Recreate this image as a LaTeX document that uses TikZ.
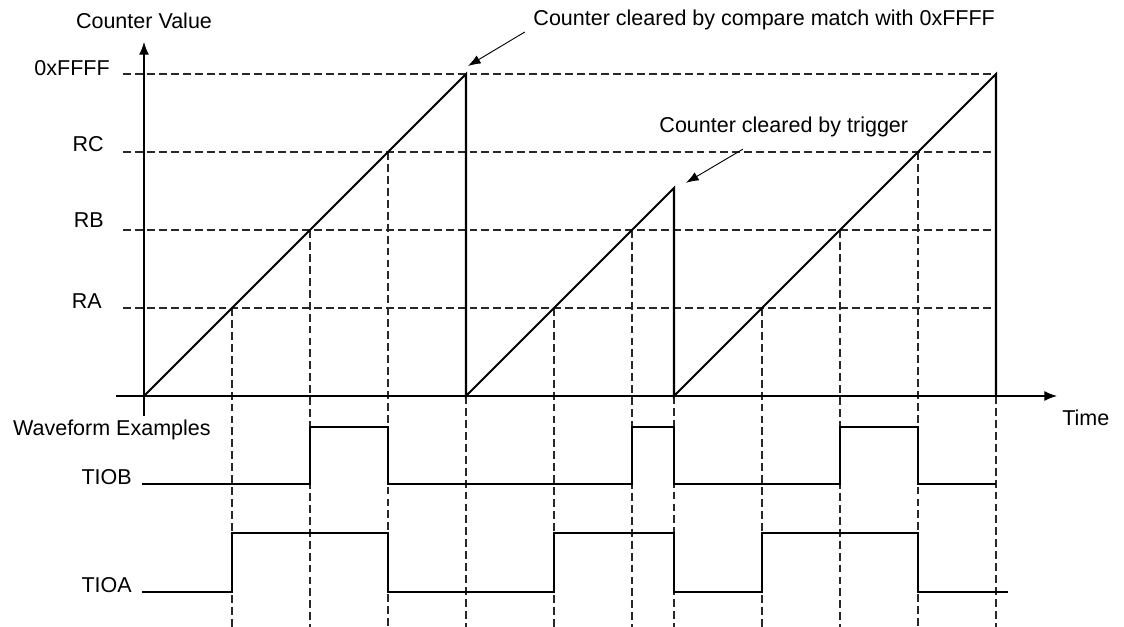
\documentclass[tikz,border=0pt]{standalone}
\usepackage{fontspec}
\setmainfont{Liberation Sans}
\usepackage{tikz}
\usetikzlibrary{arrows.meta}
\definecolor{tcline}{RGB}{0,0,0}
\definecolor{tcguide}{RGB}{40,40,40}
\tikzset{
  axis/.style={draw=tcline, line width=0.75pt, -{Latex[length=9pt,width=7pt]}},
  wave/.style={draw=tcline, line width=1.5pt, line join=miter},
  guide/.style={draw=tcguide, line width=0.8pt, dash pattern=on 5.6pt off 2.9pt},
  callout/.style={-{Latex[length=9pt,width=6.5pt]}, draw=tcline, line width=0.65pt},
  lvl/.style={anchor=east, inner sep=0pt},
  lbl/.style={inner sep=0pt},
  every picture/.append style={font=\fontsize{15.3}{18}\selectfont}
}
\begin{document}
\begin{tikzpicture}[x=1cm,y=1cm]
  \useasboundingbox (-3.6,-5.775) rectangle (24.5,9.9);

  % Compare levels
  \draw[guide] (-0.525,8.05) -- (21.3,8.05);
  \draw[guide] (-0.525,6.1) -- (21.3,6.1);
  \draw[guide] (-0.525,4.15) -- (21.3,4.15);
  \draw[guide] (-0.525,2.2) -- (21.3,2.2);

  \node[lvl] (lff) at (-0.85,8.2) {0xFFFF};
  \node[lvl] (lrc) at (-1.0,6.3) {RC};
  \node[lvl] (lrb) at (-1.0,4.4) {RB};
  \node[lvl] (lra) at (-1.05,2.37) {RA};

  % Event lines down through the waveforms
  \foreach \x/\y in {2.2/2.2, 4.15/4.15, 6.1/6.1, 8.05/0, 10.25/2.2, 12.2/4.15,
                     13.25/0, 15.45/2.2, 17.4/4.15, 19.35/6.1, 21.3/0}
    \draw[guide] (\x,\y) -- (\x,-5.775);

  % Axes
  \draw[axis] (0,-0.5) -- (0,8.85);
  \draw[axis] (-0.7,0) -- (22.825,0);
  \node[lbl] (cval) at (0,9.37) {Counter Value};
  \node[lbl, anchor=west] (time) at (22.95,-0.55) {Time};

  % Counter
  \draw[wave] (0,0) -- (8.05,8.05) -- (8.05,0) -- (13.25,5.2) -- (13.25,0)
    -- (21.3,8.05) -- (21.3,0);
  \coordinate (top) at (8.1,8.25);
  \coordinate (trig) at (13.55,5.33);

  % Callouts
  \node[lbl, anchor=west] (cmp) at (9.73,9.4) {Counter cleared by compare match with 0xFFFF};
  \node[lbl, anchor=west] (trg) at (12.88,6.72) {Counter cleared by trigger};
  \coordinate (cmpt) at (9.52,9.1);
  \coordinate (trgt) at (14.97,6.17);
  \draw[callout] (cmpt) -- (top);
  \draw[callout] (trgt) -- (trig);

  % Waveforms
  \node[lbl, anchor=west] (wex) at (-3.28,-0.85) {Waveform Examples};
  \node[lbl, anchor=east] (tiob) at (-0.3,-2.03) {TIOB};
  \node[lbl, anchor=east] (tioa) at (-0.3,-4.73) {TIOA};

  \draw[wave] (-0.05,-2.2) -- (4.15,-2.2) -- (4.15,-0.775) -- (6.1,-0.775)
    -- (6.1,-2.2) -- (12.2,-2.2) -- (12.2,-0.775) -- (13.25,-0.775)
    -- (13.25,-2.2) -- (17.4,-2.2) -- (17.4,-0.775) -- (19.35,-0.775)
    -- (19.35,-2.2) -- (21.3,-2.2);
  \draw[wave] (-0.05,-4.9) -- (2.2,-4.9) -- (2.2,-3.425) -- (6.1,-3.425)
    -- (6.1,-4.9) -- (10.25,-4.9) -- (10.25,-3.425) -- (13.25,-3.425)
    -- (13.25,-4.9) -- (15.45,-4.9) -- (15.45,-3.425) -- (19.35,-3.425)
    -- (19.35,-4.9) -- (21.6,-4.9);
\end{tikzpicture}
\end{document}
